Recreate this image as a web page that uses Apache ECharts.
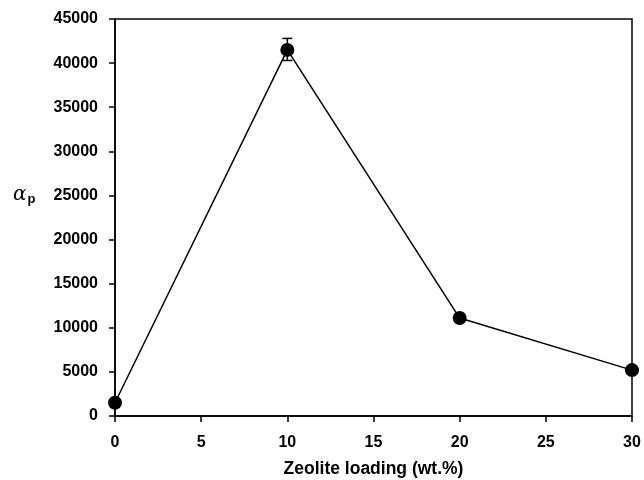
<!DOCTYPE html>
<html><head><meta charset="utf-8">
<script src="https://cdn.jsdelivr.net/npm/echarts@6/dist/echarts.min.js"></script>
<style>html,body{margin:0;padding:0;background:#fff}#c{width:644px;height:480px}</style>
</head><body><div id="c"></div>
<script>
const loading = [0, 10, 20, 30];
const alphaP = [1500, 41500, 11100, 5200];
const errLow = [null, 40300, null, null];
const errHigh = [null, 42800, null, null];
const xTicks = [0, 5, 10, 15, 20, 25, 30];
const yTicks = [0, 5000, 10000, 15000, 20000, 25000, 30000, 35000, 40000, 45000];

const chart = echarts.init(document.getElementById('c'));
const lab = {color:'#000', fontFamily:'Liberation Sans, Arial, sans-serif', fontWeight:'bold', fontSize:16};
chart.setOption({
  animation:false,
  grid:{left:115, right:12, top:19, bottom:64, show:true, borderColor:'#000', borderWidth:1.5,
        containLabel:false, outerBoundsMode:'none'},
  xAxis:{type:'value', min:xTicks[0], max:xTicks[xTicks.length-1], interval:5,
    axisLine:{show:true, onZero:false, lineStyle:{color:'#000', width:1.5}},
    axisTick:{show:true, inside:false, length:6, lineStyle:{color:'#000', width:1.5}},
    splitLine:{show:false},
    axisLabel:Object.assign({margin:19, formatter:v=>String(v)}, lab),
    name:'Zeolite loading (wt.%)', nameLocation:'middle', nameGap:44,
    nameTextStyle:Object.assign({}, lab, {fontSize:17.5})
  },
  yAxis:{type:'value', min:yTicks[0], max:yTicks[yTicks.length-1], interval:5000,
    axisLine:{show:true, lineStyle:{color:'#000', width:1.5}},
    axisTick:{show:true, inside:false, length:6, lineStyle:{color:'#000', width:1.5}},
    splitLine:{show:false},
    axisLabel:Object.assign({margin:17, formatter:v=>String(v)}, lab)
  },
  graphic:[{type:'text', left:13, top:185, style:{
    text:'{a|α}{p|p}',
    rich:{
      a:{fontFamily:'DejaVu Serif, serif', fontStyle:'italic', fontSize:20, fill:'#000'},
      p:{fontFamily:'Liberation Sans, Arial, sans-serif', fontWeight:'bold', fontSize:13, fill:'#000', padding:[9,0,0,1]}
    }}}],
  series:[
    {type:'line', data:loading.map((x,i)=>[x, alphaP[i]]), symbol:'circle', symbolSize:14,
     lineStyle:{color:'#000', width:1.5}, itemStyle:{color:'#000'}, z:3},
    {type:'custom', z:4,
     data:loading.map((x,i)=>[x, errLow[i], errHigh[i]]).filter(d=>d[1]!=null),
     renderItem:function(params, api){
       const x = api.value(0);
       const lo = api.coord([x, api.value(1)]);
       const hi = api.coord([x, api.value(2)]);
       const w = 5;
       const st = {stroke:'#000', lineWidth:1.5};
       return {type:'group', children:[
         {type:'line', shape:{x1:lo[0], y1:lo[1], x2:hi[0], y2:hi[1]}, style:st},
         {type:'line', shape:{x1:lo[0]-w, y1:lo[1], x2:lo[0]+w, y2:lo[1]}, style:st},
         {type:'line', shape:{x1:hi[0]-w, y1:hi[1], x2:hi[0]+w, y2:hi[1]}, style:st}
       ]};
     }}
  ]
});
</script></body></html>
